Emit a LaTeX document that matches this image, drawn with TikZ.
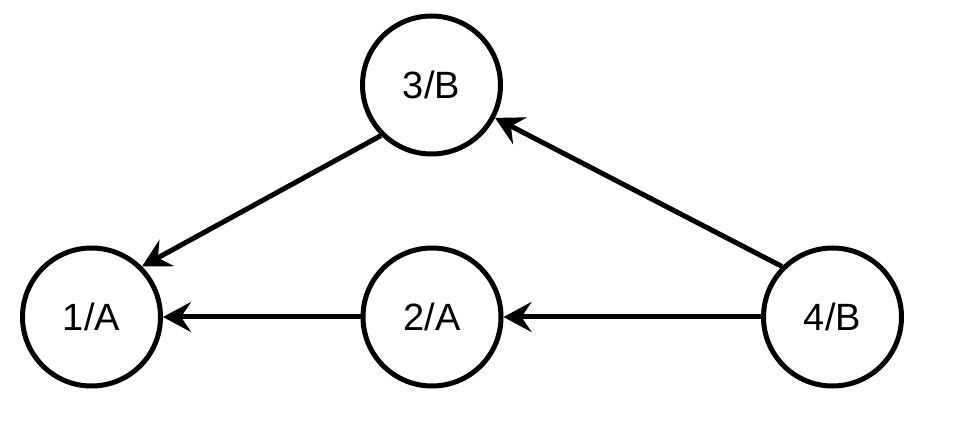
\documentclass[tikz,border=0pt]{standalone}
\usepackage{fontspec}
\setmainfont{Liberation Sans}
\usetikzlibrary{arrows.meta}
\begin{document}
\begin{tikzpicture}[x=1pt,y=1pt,
  statenode/.style={circle,draw=black,line width=5pt,minimum size=138pt,inner sep=0pt,font=\fontsize{38}{40}\selectfont},
  conn/.style={line width=5pt,-{Stealth[length=28pt,width=30pt,inset=10pt]}}]
\useasboundingbox (0,0) rectangle (964,442);
\node[statenode] (a1) at (91.5,125) {1/A};
\node[statenode] (a2) at (432,125) {2/A};
\node[statenode] (b3) at (431.5,357) {3/B};
\node[statenode] (b4) at (832.5,125) {4/B};
\draw[conn] (b3.225) -- (a1.45);
\draw[conn] (a2) -- (a1);
\draw[conn] (b4) -- (a2);
\draw[conn] (b4.135) -- (b3);
\end{tikzpicture}
\end{document}
